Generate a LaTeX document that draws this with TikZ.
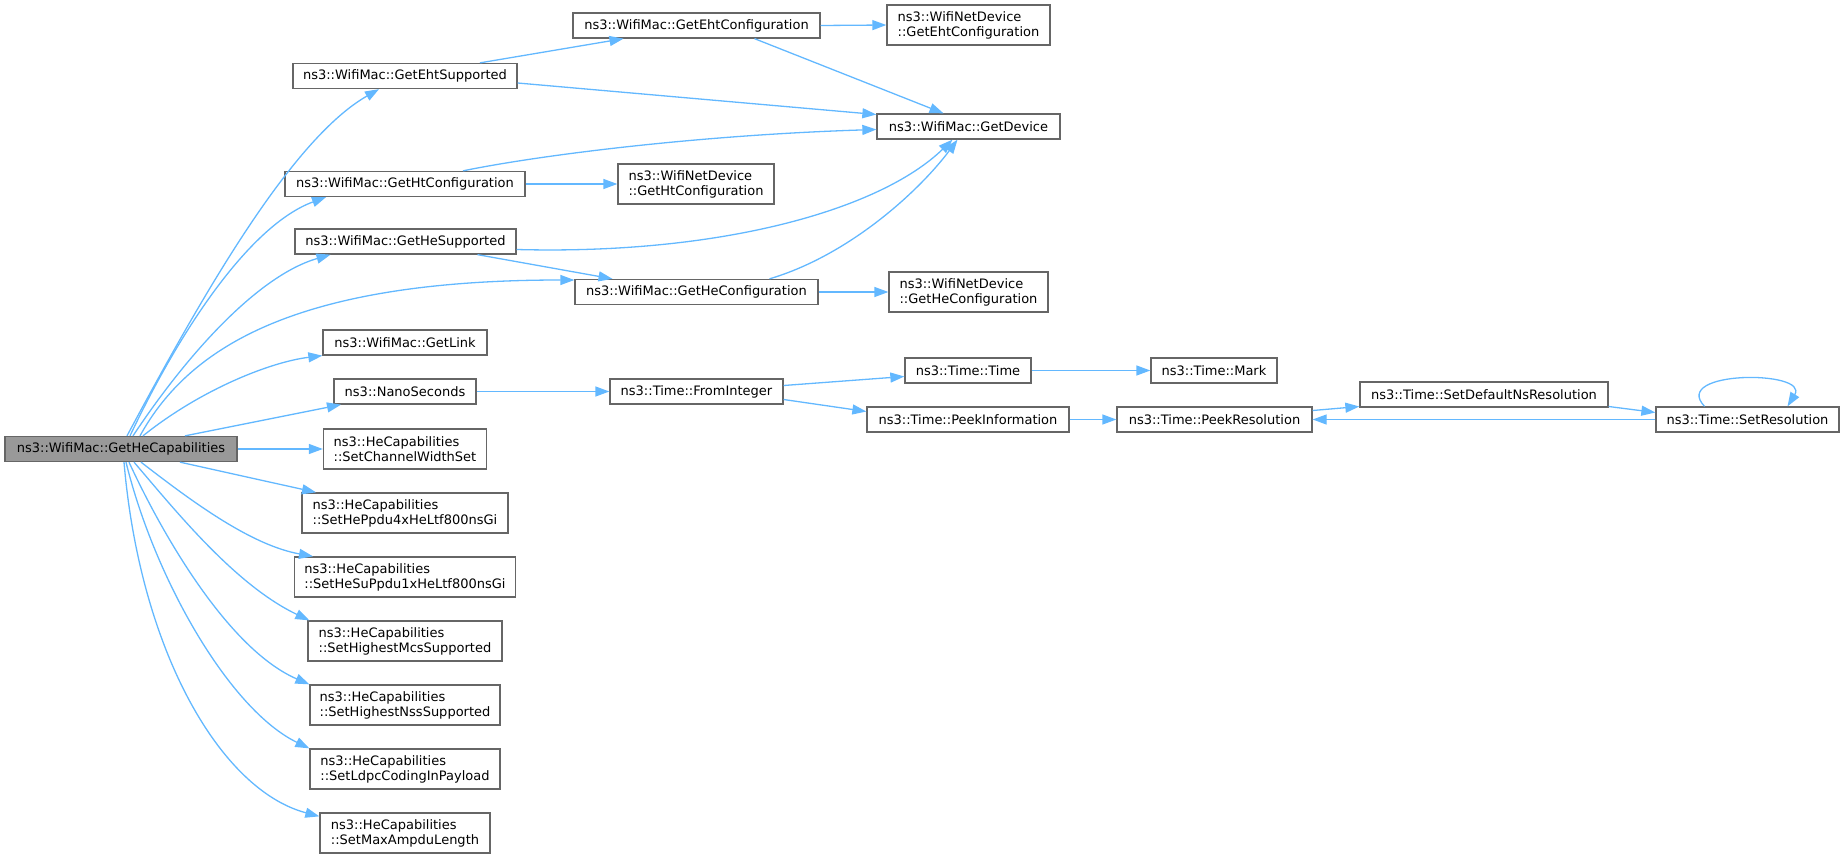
\documentclass[tikz,border=0pt]{standalone}
\usepackage{fontspec}
\setmainfont{DejaVu Sans}
\usepackage{xcolor}
\usetikzlibrary{arrows.meta}
\definecolor{edgeblue}{HTML}{63B8FF}
\definecolor{boxgray}{HTML}{666666}
\definecolor{capgray}{HTML}{999999}

\begin{document}
\begin{tikzpicture}[x=1pt,y=-1pt,
  fn/.style={draw=boxgray,fill=white,line width=1.3pt,inner sep=0pt,minimum height=25pt,align=left,font=\fontsize{13}{15}\selectfont},
  fn2/.style={fn,minimum height=40pt},
  >={Triangle[length=14pt,width=10pt]},
  call/.style={draw=edgeblue,line width=1.3pt,->,color=edgeblue}]
\useasboundingbox (0,0) rectangle (1844,859);
\node[fn,fill=capgray,minimum width=232] (cap) at (121,449) {ns3::WifiMac::GetHeCapabilities};
\node[fn,minimum width=224] (ehtsup) at (405,76) {ns3::WifiMac::GetEhtSupported};
\node[fn,minimum width=240] (htconf) at (405,184) {ns3::WifiMac::GetHtConfiguration};
\node[fn,minimum width=221] (hesup) at (405.5,241.5) {ns3::WifiMac::GetHeSupported};
\node[fn,minimum width=164] (getlink) at (405,342.5) {ns3::WifiMac::GetLink};
\node[fn,minimum width=142] (nano) at (405,391.5) {ns3::NanoSeconds};
\foreach \n/\y/\w/\t in {chw/449/163/SetChannelWidthSet,ppdu4/513/206/SetHePpdu4xHeLtf800nsGi,
  su1/577/221/SetHeSuPpdu1xHeLtf800nsGi,mcs/641/194/SetHighestMcsSupported,
  nss/705/190/SetHighestNssSupported,ldpc/769/190/SetLdpcCodingInPayload,ampdu/833/170/SetMaxAmpduLength}
  \node[fn2,minimum width=\w] (\n) at (405,\y) {ns3::HeCapabilities\\::\t};
\node[fn,minimum width=247] (ehtconf) at (696.5,25.5) {ns3::WifiMac::GetEhtConfiguration};
\node[fn2,minimum width=156] (ndht) at (696,184) {ns3::WifiNetDevice\\::GetHtConfiguration};
\node[fn,minimum width=243] (hecfg) at (696.5,292) {ns3::WifiMac::GetHeConfiguration};
\node[fn,minimum width=173] (fromint) at (696.5,391.5) {ns3::Time::FromInteger};
\node[fn2,minimum width=163] (ndeht) at (968.5,25) {ns3::WifiNetDevice\\::GetEhtConfiguration};
\node[fn,minimum width=183] (getdev) at (968.5,126.5) {ns3::WifiMac::GetDevice};
\node[fn2,minimum width=159] (ndhe) at (968.5,292) {ns3::WifiNetDevice\\::GetHeConfiguration};
\node[fn,minimum width=126] (tt) at (968,370.5) {ns3::Time::Time};
\node[fn,minimum width=202] (peekinfo) at (968,419.5) {ns3::Time::PeekInformation};
\node[fn,minimum width=126] (mark) at (1214,370.5) {ns3::Time::Mark};
\node[fn,minimum width=195] (peekres) at (1214.5,419.5) {ns3::Time::PeekResolution};
\node[fn,minimum width=248] (setdef) at (1484,394.5) {ns3::Time::SetDefaultNsResolution};
\node[fn,minimum width=183] (setres) at (1747.5,419.5) {ns3::Time::SetResolution};

\draw[call] ([xshift=6]cap.north) .. controls (200,300) and (290,140) .. ([xshift=-26]ehtsup.south);
\draw[call] ([xshift=9]cap.north) .. controls (180,330) and (250,225) .. ([xshift=-79]htconf.south);
\draw[call] ([xshift=12]cap.north) .. controls (190,350) and (260,275) .. ([xshift=-75]hesup.south);
\draw[call] ([xshift=19]cap.north) .. controls (190,345) and (300,280) .. ([yshift=12]hecfg.west);
\draw[call] ([xshift=22]cap.north) .. controls (200,390) and (270,362) .. (getlink.south west);
\draw[call] ([xshift=64]cap.north) -- ([xshift=-64]nano.south);
\draw[call] (cap.east) -- (chw.west);
\draw[call] ([xshift=59]cap.south) -- ([xshift=-89]ppdu4.north);
\draw[call] ([xshift=20]cap.south) .. controls (190,500) and (250,545) .. ([xshift=-92]su1.north);
\draw[call] ([xshift=13]cap.south) .. controls (175,510) and (235,585) .. ([xshift=2]mcs.north west);
\draw[call] ([xshift=8]cap.south) .. controls (165,540) and (230,650) .. (nss.north west);
\draw[call] ([xshift=5]cap.south) .. controls (155,580) and (230,710) .. (ldpc.north west);
\draw[call] ([xshift=3]cap.south) .. controls (140,650) and (220,790) .. ([yshift=-4]ampdu.north west);

\draw[call] ([xshift=75]ehtsup.north) -- ([xshift=-73]ehtconf.south);
\draw[call] ([yshift=-7]ehtsup.east) -- ([yshift=12]getdev.west);
\draw[call] (ehtconf.east) -- (ndeht.west);
\draw[call] ([xshift=58]ehtconf.south) -- ([xshift=-25]getdev.north);
\draw[call] ([xshift=58]htconf.north) .. controls (540,155) and (700,135) .. ([yshift=-3]getdev.west);
\draw[call] (htconf.east) -- (ndht.west);
\draw[call] ([yshift=-8]hesup.east) .. controls (720,255) and (880,210) .. ([xshift=-16]getdev.south);
\draw[call] ([xshift=72]hesup.south) -- ([xshift=-84]hecfg.north);
\draw[call] ([xshift=73]hecfg.north) .. controls (850,255) and (920,190) .. ([xshift=-11]getdev.south);
\draw[call] (hecfg.east) -- (ndhe.west);

\draw[call] (nano.east) -- (fromint.west);
\draw[call] ([yshift=6]fromint.east) -- ([yshift=-6]tt.west);
\draw[call] ([yshift=-8]fromint.east) -- ([yshift=8]peekinfo.west);
\draw[call] (tt.east) -- (mark.west);
\draw[call] (peekinfo.east) -- (peekres.west);
\draw[call] ([yshift=9]peekres.east) -- ([yshift=-12]setdef.west);
\draw[call] ([yshift=-12]setdef.east) -- ([yshift=7]setres.west);
\draw[call] (setres.west) -- (peekres.east);
\draw[call] ([xshift=-43]setres.north) .. controls (1670,370) and (1810,370) .. ([xshift=40]setres.north);
\end{tikzpicture}
\end{document}
